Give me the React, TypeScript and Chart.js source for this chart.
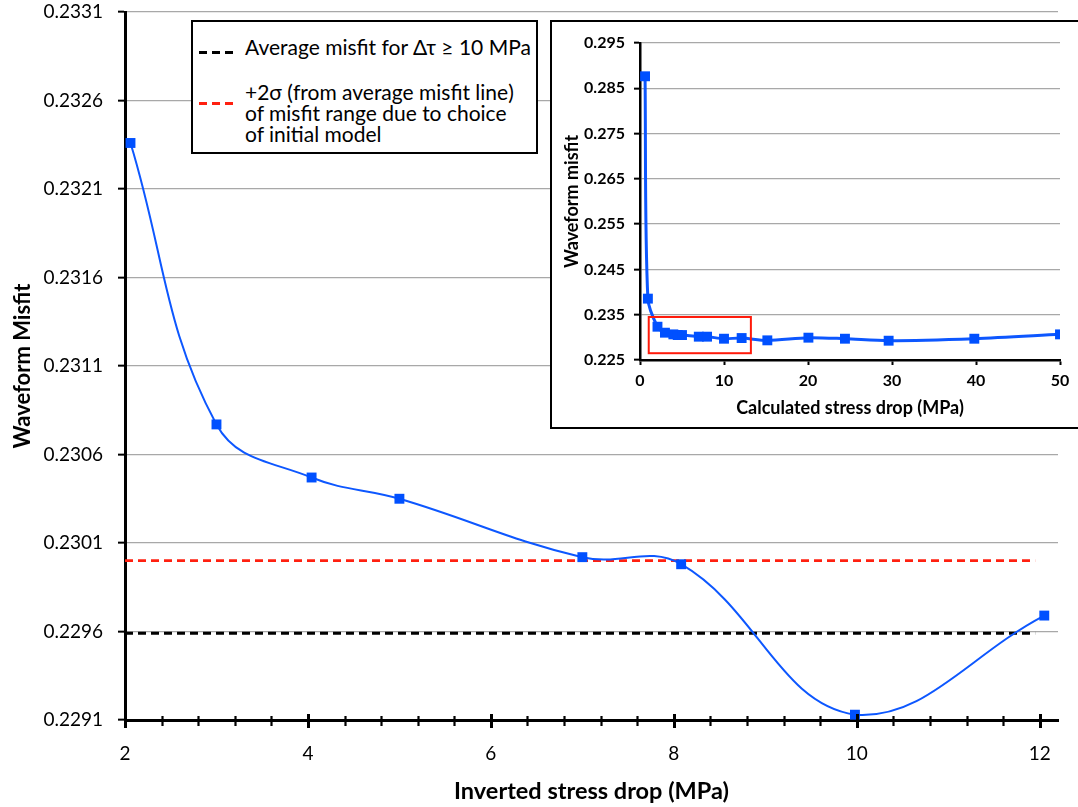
import React, { useEffect, useRef } from 'react';
import { Chart, registerables } from 'chart.js';

Chart.register(...registerables);
Chart.defaults.font.family = 'Lato, "Open Sans", sans-serif';

// Main panel: misfit versus inverted stress drop
const stressDrop = [2.06, 3.0, 4.04, 5.0, 7.0, 8.08, 9.98, 12.05];
const misfit = [0.23236, 0.23077, 0.23047, 0.23035, 0.23002, 0.22998, 0.22913, 0.22969];

// Reference levels drawn as dashed lines
const avgMisfit = 0.22959;
const plusTwoSigma = 0.23;
const refLineX = [2.0, 11.95];

// Main x-axis tick layout (labelled every 2 MPa, minor marks every 0.4 MPa)
const xMajorStep = 2;
const xMinorStep = 0.4;

// Inset: misfit versus calculated stress drop over the full range
const calcStressDrop = [0.6, 0.94, 2.08, 2.97, 3.97, 4.49, 5.0, 7.0, 7.98, 10.0, 12.1, 15.16, 20.05, 24.4, 29.6, 39.8, 50.0];
const calcMisfit = [0.28765, 0.23855, 0.23235, 0.23103, 0.23066, 0.23051, 0.23051, 0.23015, 0.23015, 0.2297, 0.22985, 0.22934, 0.22993, 0.2297, 0.22926, 0.2297, 0.23066];

// Zoomed region highlighted in the inset (x range, y range)
const zoomX = [1.04, 13.2];
const zoomY = [0.2265, 0.2345];

const BLUE_LINE = '#0d57ff';
const BLUE_MARK = '#0050ff';

// Keep the plot area exactly where the fixed axis sizes put it
const noEdgePaddingY = (s: any) => {
  s.paddingTop = 0;
  s.paddingBottom = 0;
};
const noEdgePaddingX = (s: any) => {
  s.paddingLeft = 0;
  s.paddingRight = 0;
};

const xTickMarks = {
  id: 'xTickMarks',
  afterDatasetsDraw(chart: any) {
    const { ctx, chartArea, scales } = chart;
    const x = scales.x;
    const y0 = chartArea.bottom + 1;
    ctx.save();
    ctx.strokeStyle = '#000';
    const n = Math.round((12 - 2) / xMinorStep);
    for (let i = 0; i <= n; i++) {
      const v = 2 + i * xMinorStep;
      const ratio = (v - 2) / xMajorStep;
      const major = Math.abs(ratio - Math.round(ratio)) < 1e-6;
      const px = Math.round(x.getPixelForValue(v)) + 0.5;
      ctx.lineWidth = major ? 3 : 2.2;
      const h = major ? 7 : 5;
      ctx.beginPath();
      ctx.moveTo(px, y0 - h);
      ctx.lineTo(px, y0 + h);
      ctx.stroke();
    }
    ctx.restore();
  },
};

const zoomRect = {
  id: 'zoomRect',
  afterDatasetsDraw(chart: any) {
    const { ctx, scales } = chart;
    const x1 = scales.x.getPixelForValue(zoomX[0]);
    const x2 = scales.x.getPixelForValue(zoomX[1]);
    const y1 = scales.y.getPixelForValue(zoomY[1]);
    const y2 = scales.y.getPixelForValue(zoomY[0]);
    ctx.save();
    ctx.strokeStyle = '#ff1a0a';
    ctx.lineWidth = 2;
    ctx.strokeRect(x1, y1, x2 - x1, y2 - y1);
    ctx.restore();
  },
};

function MainChart() {
  const ref = useRef<HTMLCanvasElement | null>(null);
  useEffect(() => {
    if (!ref.current) return;
    const chart = new Chart(ref.current, {
      type: 'line',
      data: {
        datasets: [
          {
            data: stressDrop.map((x, i) => ({ x, y: misfit[i] })),
            borderColor: BLUE_LINE,
            borderWidth: 2,
            tension: 0.4,
            pointStyle: 'rect',
            pointRadius: 7,
            pointBackgroundColor: BLUE_MARK,
            pointBorderWidth: 0,
            order: 0,
          },
          {
            data: refLineX.map((x) => ({ x, y: plusTwoSigma })),
            borderColor: '#ff2010',
            borderWidth: 2.8,
            borderDash: [8, 5],
            pointRadius: 0,
            order: 1,
          },
          {
            data: refLineX.map((x) => ({ x, y: avgMisfit })),
            borderColor: '#000',
            borderWidth: 2.8,
            borderDash: [8, 5],
            pointRadius: 0,
            order: 2,
          },
        ],
      },
      options: {
        responsive: false,
        animation: false,
        events: [],
        layout: { padding: { top: 12, right: 20, left: 0, bottom: 0 } },
        plugins: { legend: { display: false }, tooltip: { enabled: false } },
        scales: {
          x: {
            type: 'linear',
            min: 2,
            max: 12.2,
            ticks: {
              stepSize: xMajorStep,
              includeBounds: false,
              color: '#000',
              font: { size: 19 },
              padding: 22,
            },
            grid: { display: false, drawTicks: false },
            border: { display: true, color: '#000', width: 3 },
            title: {
              display: true,
              text: 'Inverted stress drop (MPa)',
              color: '#000',
              font: { size: 23.5, weight: 'bold' },
              padding: { top: 0, bottom: 1 },
            },
            afterFit: (s: any) => {
              s.height = 87;
              noEdgePaddingX(s);
            },
          },
          y: {
            min: 0.2291,
            max: 0.2331,
            ticks: {
              stepSize: 0.0005,
              color: '#000',
              font: { size: 19 },
              padding: 15,
              callback: (v: any) => Number(v).toFixed(4),
            },
            grid: {
              color: '#a8a8a8',
              lineWidth: 1.3,
              tickLength: 7,
              tickColor: '#000',
              tickWidth: 2,
            },
            border: { display: true, color: '#000', width: 3 },
            title: {
              display: true,
              text: 'Waveform Misfit',
              color: '#000',
              font: { size: 22, weight: 'bold' },
              padding: { top: 10, bottom: 0 },
            },
            afterFit: (s: any) => {
              s.width = 125;
              noEdgePaddingY(s);
            },
          },
        },
      },
      plugins: [xTickMarks],
    } as any);
    return () => chart.destroy();
  }, []);
  return <canvas ref={ref} width={1078} height={807} style={{ position: 'absolute', left: 0, top: 0 }} />;
}

function InsetChart() {
  const ref = useRef<HTMLCanvasElement | null>(null);
  useEffect(() => {
    if (!ref.current) return;
    const chart = new Chart(ref.current, {
      type: 'line',
      data: {
        datasets: [
          {
            data: calcStressDrop.map((x, i) => ({ x, y: calcMisfit[i] })),
            borderColor: BLUE_LINE,
            borderWidth: 3,
            tension: 0.3,
            pointStyle: 'rect',
            pointRadius: 7,
            pointBackgroundColor: BLUE_MARK,
            pointBorderWidth: 0,
          },
        ],
      },
      options: {
        responsive: false,
        animation: false,
        events: [],
        layout: { padding: { top: 21, right: 18, left: 0, bottom: 0 } },
        plugins: { legend: { display: false }, tooltip: { enabled: false } },
        scales: {
          x: {
            type: 'linear',
            min: 0,
            max: 50,
            ticks: {
              stepSize: 10,
              color: '#000',
              font: { size: 16, weight: 'bold' },
              padding: 6,
            },
            grid: {
              drawOnChartArea: false,
              tickLength: 5,
              tickColor: '#000',
              tickWidth: 2,
            },
            border: { display: true, color: '#000', width: 2.5 },
            title: {
              display: true,
              text: 'Calculated stress drop (MPa)',
              color: '#000',
              font: { size: 18, weight: 'bold' },
              padding: { top: 0, bottom: 8 },
            },
            afterFit: (s: any) => {
              s.height = 67;
              noEdgePaddingX(s);
            },
          },
          y: {
            min: 0.225,
            max: 0.295,
            ticks: {
              stepSize: 0.01,
              color: '#000',
              font: { size: 16, weight: 'bold' },
              padding: 9,
              callback: (v: any) => Number(v).toFixed(3),
            },
            grid: {
              color: '#a8a8a8',
              lineWidth: 1.3,
              tickLength: 6,
              tickColor: '#000',
              tickWidth: 2,
            },
            border: { display: true, color: '#000', width: 2.5 },
            title: {
              display: true,
              text: 'Waveform misfit',
              color: '#000',
              font: { size: 18, weight: 'bold' },
              padding: { top: 9, bottom: 0 },
            },
            afterFit: (s: any) => {
              s.width = 88;
              noEdgePaddingY(s);
            },
          },
        },
      },
      plugins: [zoomRect],
    } as any);
    return () => chart.destroy();
  }, []);
  return <canvas ref={ref} width={526} height={405} style={{ display: 'block' }} />;
}

const dash = (color: string) => ({
  position: 'absolute' as const,
  left: 6,
  width: 34,
  height: 3,
  background: `repeating-linear-gradient(to right, ${color} 0 8px, transparent 8px 13px)`,
});

export default function App() {
  return (
    <div
      style={{
        position: 'absolute',
        left: 0,
        top: 0,
        width: 1078,
        height: 807,
        overflow: 'hidden',
        background: '#fff',
      }}
    >
      <MainChart />
      <div
        style={{
          position: 'absolute',
          left: 191,
          top: 20,
          width: 343,
          height: 130,
          border: '2px solid #000',
          background: '#fff',
          fontFamily: 'Lato, "Open Sans", sans-serif',
          fontSize: 21,
          lineHeight: '21px',
          color: '#000',
          whiteSpace: 'nowrap',
        }}
      >
        <div style={{ ...dash('#000'), top: 29 }} />
        <div style={{ position: 'absolute', left: 52, top: 14 }}>Average misfit for Δτ ≥ 10 MPa</div>
        <div style={{ ...dash('#ff2010'), top: 80 }} />
        <div style={{ position: 'absolute', left: 52, top: 59 }}>
          +2σ (from average misfit line)
          <br />
          of misfit range due to choice
          <br />
          of initial model
        </div>
      </div>
      <div
        style={{
          position: 'absolute',
          left: 550,
          top: 20,
          borderTop: '2px solid #000',
          borderLeft: '2px solid #000',
          borderBottom: '2px solid #000',
          background: '#fff',
        }}
      >
        <InsetChart />
      </div>
    </div>
  );
}
